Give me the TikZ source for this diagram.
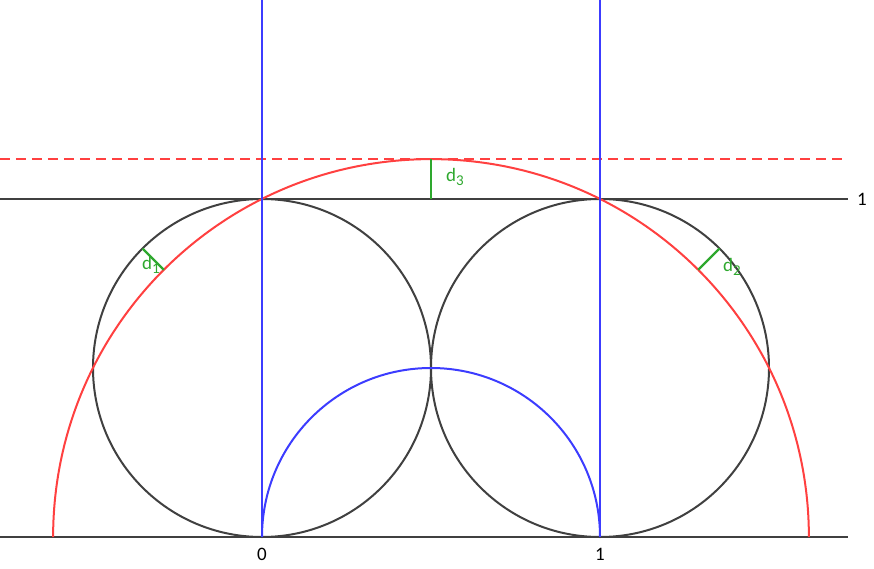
\documentclass[tikz,border=0pt]{standalone}
\usepackage{fontspec}
\setmainfont{Carlito}
\usepackage{xcolor}
\usetikzlibrary{calc, positioning}
\definecolor{cblack}{HTML}{404040}
\definecolor{cblue}{HTML}{3C3CFF}
\definecolor{cred}{HTML}{FF4040}
\definecolor{cgreen}{HTML}{2EA82E}
\newcommand{\subidx}[1]{\raisebox{-0.4ex}{\fontsize{15}{17}\selectfont #1}}
\tikzset{
  blackline/.style={draw=cblack, line width=2pt},
  blueline/.style={draw=cblue, line width=2pt},
  redline/.style={draw=cred, line width=2pt},
  gap/.style={draw=cgreen, line width=2.2pt},
  gaplabel/.style={text=cgreen, inner sep=1pt, font=\fontsize{19}{22}\selectfont},
  axislabel/.style={text=black, inner sep=1pt, font=\fontsize{19}{22}\selectfont}
}

\begin{document}
\begin{tikzpicture}[x=338pt, y=338pt]
            \useasboundingbox (-262pt,-31pt) rectangle (612pt,537pt);
            % centres and end points
            \coordinate (o) at (0,0);
            \coordinate (e) at (1,0);
            \coordinate (m) at (0.5,0);
            \coordinate (cl) at (0,0.5);
            \coordinate (cr) at (1,0.5);
            \coordinate (top) at (0.5,1.1180);
            % horizontal lines
            \path [blackline] (-262pt,0) -- (586pt,0);
            \path [blackline] (-262pt,338pt) -- (586pt,338pt) coordinate (one);
            \path [redline, dash pattern=on 10pt off 6pt] (-262pt,1.1180) -- (586pt,1.1180);
            % circles
            \path [blackline] (cl) circle (0.5);
            \path [blackline] (cr) circle (0.5);
            \path [redline] (m) ++(180:1.1180) arc (180:0:1.1180);
            \path [blueline] (o) arc (180:0:0.5);
            \path [blueline] (o) -- (0,537pt);
            \path [blueline] (e) -- (1,537pt);
            % distances
            \path [gap] (0.5,1) -- (top);
            \path [gap] ($(cl)+(135:0.5)$) -- ($(m)+(135:1.1180)$);
            \path [gap] ($(cr)+(45:0.5)$) -- ($(m)+(45:1.1180)$);
            \node[gaplabel] (d3) at (455pt-262pt,537pt-177pt) {d\subidx{3}};
            \node[gaplabel] (d1) at (151pt-262pt,537pt-265pt) {d\subidx{1}};
            \node[gaplabel] (d2) at (732pt-262pt,537pt-267pt) {d\subidx{2}};
            \node[axislabel, below=10pt] (l0) at (o) {0};
            \node[axislabel, below=10pt] (l1) at (e) {1};
            \node[axislabel, right=8pt] (ly) at (one) {1};
\end{tikzpicture}
\end{document}
